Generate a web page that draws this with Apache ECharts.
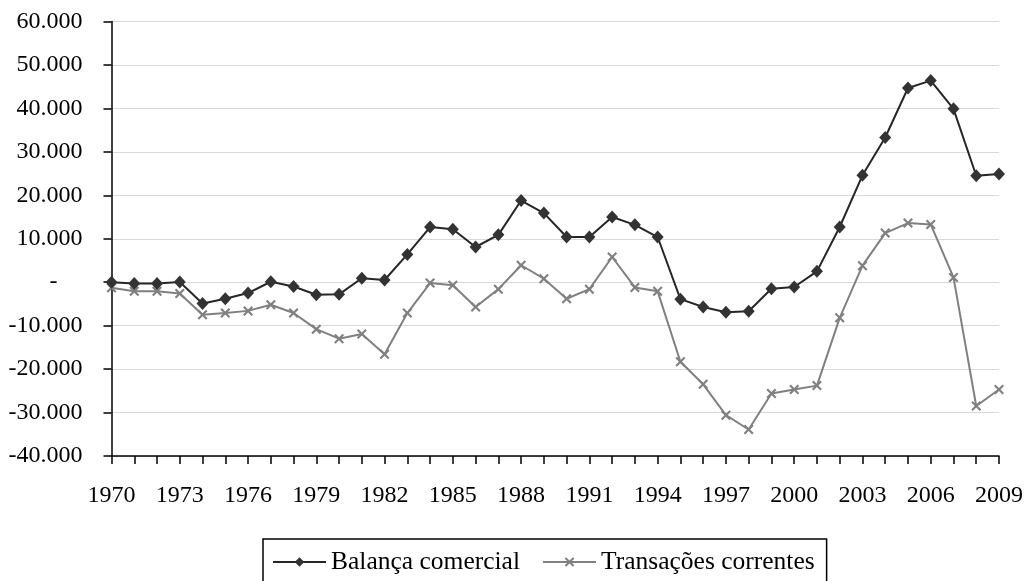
<!DOCTYPE html>
<html>
<head>
<meta charset="utf-8">
<script src="https://cdn.jsdelivr.net/npm/echarts@6/dist/echarts.min.js"></script>
<style>
html,body{margin:0;padding:0;background:#fff;}
#chart{width:1026px;height:581px;}
</style>
</head>
<body>
<div id="chart"></div>
<script>
const years = [];
for (let y = 1970; y <= 2009; y++) years.push(String(y));

const seriesNames = ['Balança comercial', 'Transações correntes'];

const balancaComercial = [0, -300, -300, 50, -4900, -3800, -2500, 100, -1000, -2900,
  -2800, 900, 500, 6400, 12700, 12200, 8100, 10900, 18800, 15900,
  10400, 10400, 15000, 13200, 10400, -3900, -5700, -6900, -6700, -1500,
  -1100, 2500, 12700, 24600, 33300, 44700, 46400, 39900, 24500, 24900];

const transacoesCorrentes = [-1300, -2100, -2100, -2600, -7500, -7100, -6600, -5200, -7100, -10800,
  -13000, -11900, -16600, -7100, -200, -700, -5700, -1600, 3900, 800,
  -3800, -1600, 5800, -1200, -2100, -18300, -23500, -30600, -33900, -25600,
  -24700, -23800, -8200, 3800, 11300, 13600, 13300, 1100, -28500, -24700];

const yMin = -40000, yMax = 60000, yStep = 10000;

const FONT = '"Liberation Serif", "Times New Roman", serif';
const crossPath = 'path://M0,1.5L1.5,0L5,3.5L8.5,0L10,1.5L6.5,5L10,8.5L8.5,10L5,6.5L1.5,10L0,8.5L3.5,5Z';

function fmt(v) {
  if (v === 0) return '{z|-}';
  const s = Math.abs(v).toString().replace(/\B(?=(\d{3})+(?!\d))/g, '.');
  return (v < 0 ? '-' : '') + s;
}

const chart = echarts.init(document.getElementById('chart'), null, {renderer: 'canvas'});
chart.setOption({
  backgroundColor: '#ffffff',
  animation: false,
  grid: {left: 111.5, right: 25.5, top: 21.5, bottom: 125, containLabel: false},
  legend: {
    left: 263, top: 539,
    data: seriesNames,
    itemWidth: 53, itemHeight: 12, itemGap: 22,
    borderColor: '#000', borderWidth: 1.5, borderRadius: 0,
    padding: [10, 12, 14, 9],
    textStyle: {fontFamily: FONT, fontSize: 25.5, color: '#000'}
  },
  xAxis: {
    type: 'category',
    data: years,
    boundaryGap: false,
    axisLine: {onZero: false, lineStyle: {color: '#000', width: 1.5}},
    axisTick: {show: true, interval: 0, length: 8, inside: false, lineStyle: {color: '#000', width: 1.5}},
    axisLabel: {interval: 2, margin: 28, fontFamily: FONT, fontSize: 24, color: '#000'},
    splitLine: {show: false}
  },
  yAxis: {
    type: 'value',
    min: yMin, max: yMax, interval: yStep,
    axisLine: {show: true, lineStyle: {color: '#000', width: 1.5}},
    axisTick: {show: true, length: 8, lineStyle: {color: '#000', width: 1.5}},
    axisLabel: {
      margin: 29, fontFamily: FONT, fontSize: 24, color: '#000',
      formatter: fmt,
      rich: {z: {fontFamily: FONT, fontSize: 24, color: '#000', padding: [0, 25, 0, 0]}}
    },
    splitLine: {show: true, lineStyle: {color: '#b3b3b3', type: 'dotted', width: 1}}
  },
  series: [
    {
      name: seriesNames[0],
      type: 'line',
      data: balancaComercial,
      symbol: 'diamond',
      symbolSize: [12, 13],
      showAllSymbol: true,
      lineStyle: {color: '#262626', width: 2},
      itemStyle: {color: '#333333', borderColor: '#333333', borderWidth: 0},
      z: 3
    },
    {
      name: seriesNames[1],
      type: 'line',
      data: transacoesCorrentes,
      symbol: crossPath,
      symbolSize: 10,
      showAllSymbol: true,
      lineStyle: {color: '#808080', width: 2},
      itemStyle: {color: '#808080', borderWidth: 0},
      z: 2
    }
  ]
});
</script>
</body>
</html>
